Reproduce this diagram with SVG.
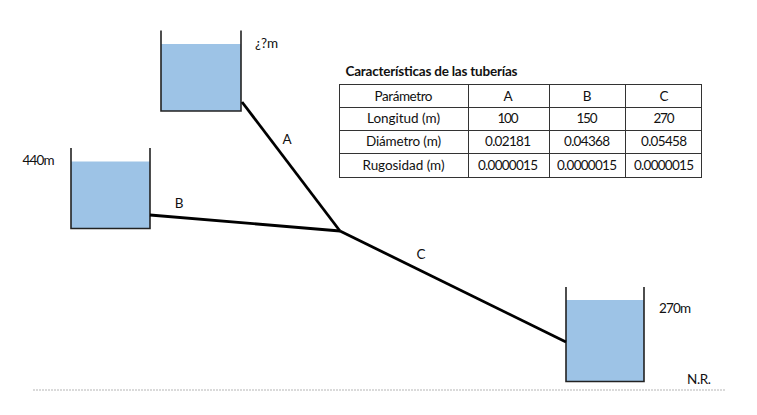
<svg xmlns="http://www.w3.org/2000/svg" width="757" height="415" viewBox="0 0 757 415">
<style>
text{font-family:"Lato","Liberation Sans",sans-serif;font-size:13.500px;fill:#111}
.c{text-anchor:middle}
.water{fill:#9dc3e6}
.wall{fill:none;stroke:#222;stroke-width:1.6}
.pipe{fill:none;stroke:#000;stroke-width:2.800}
.grid{fill:none;stroke:#333;stroke-width:1}
</style>
<rect width="757" height="415" fill="#fff"/>
<g id="tank-top"><rect class="water" x="161" y="44" width="80" height="67"/><path class="wall" d="M161 30.500V111H241V30.500"/><text x="255" y="47.500">¿?m</text></g>
<g id="tank-left"><rect class="water" x="71" y="161.500" width="79" height="67"/><path class="wall" d="M71 148V228.500H150V148"/><text x="22.500" y="165" textLength="32">440m</text></g>
<g id="tank-right"><rect class="water" x="566" y="300" width="78" height="81.500"/><path class="wall" d="M566 287V381.500H644V287"/><text x="659" y="313" textLength="32">270m</text></g>
<g id="connectors">
<path class="pipe" d="M242 102L340 231"/>
<path class="pipe" d="M150 215L340 231"/>
<path class="pipe" d="M340 231L566 342"/>
<path d="M33 390H725" fill="none" stroke="#b5b5b5" stroke-width="1" stroke-dasharray="2 1"/>
</g>
<g id="pipe-labels">
<text class="c" x="287" y="144">A</text>
<text class="c" x="179" y="208">B</text>
<text class="c" x="421" y="259">C</text>
<text x="687" y="384" textLength="24">N.R.</text>
</g>
<g id="table">
<text x="345.500" y="75.500" textLength="172" style="font-weight:700">Características de las tuberías</text>
<rect class="grid" x="339.500" y="84.500" width="362" height="93"/>
<path class="grid" d="M468.500 84.500V177.500M549.500 84.500V177.500M625.500 84.500V177.500M339.500 107.500H701.500M339.500 130.500H701.500M339.500 153.500H701.500"/>
<text class="c" x="403.500" y="100.500" textLength="58">Parámetro</text><text class="c" x="508" y="100.500">A</text><text class="c" x="587" y="100.500">B</text><text class="c" x="664" y="100.500">C</text>
<text class="c" x="403.500" y="123" textLength="73">Longitud (m)</text><text class="c" x="508" y="123" textLength="21">100</text><text class="c" x="587" y="123" textLength="21">150</text><text class="c" x="664" y="123" textLength="21">270</text>
<text class="c" x="403.500" y="146" textLength="75">Diámetro (m)</text><text class="c" x="508" y="146" textLength="46">0.02181</text><text class="c" x="587" y="146" textLength="46">0.04368</text><text class="c" x="664" y="146" textLength="46">0.05458</text>
<text class="c" x="403.500" y="169.500" textLength="82">Rugosidad (m)</text><text class="c" x="508" y="169.500" textLength="60">0.0000015</text><text class="c" x="587" y="169.500" textLength="60">0.0000015</text><text class="c" x="664" y="169.500" textLength="60">0.0000015</text>
</g>
</svg>
